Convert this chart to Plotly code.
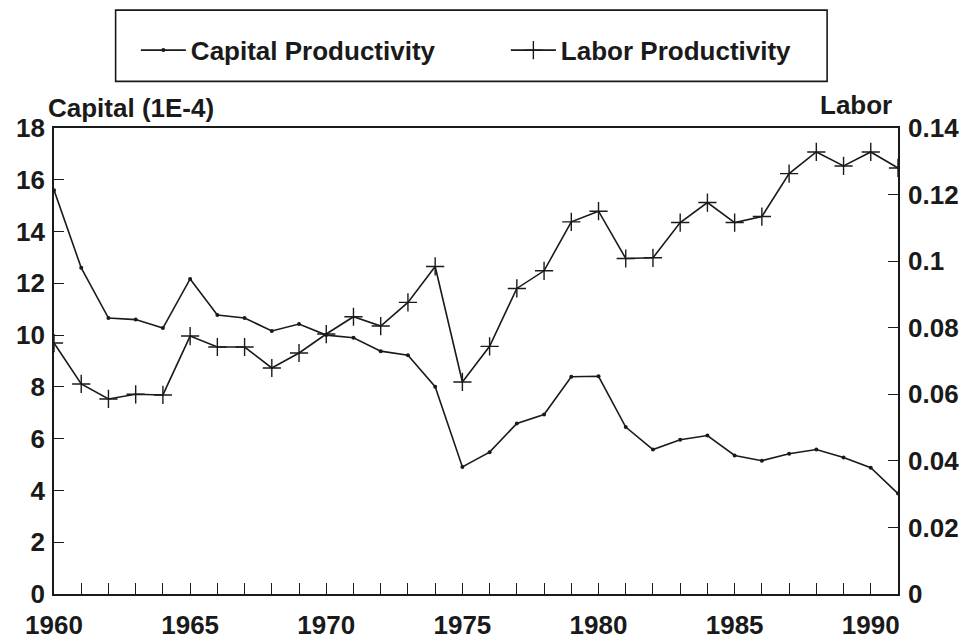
import plotly.graph_objects as go

years = list(range(1960, 1992))
capital = [15.6, 12.6, 10.66, 10.6, 10.27, 12.17, 10.78, 10.66, 10.16, 10.43,
           10.0, 9.9, 9.38, 9.22, 8.01, 4.91, 5.48, 6.59, 6.93, 8.39,
           8.41, 6.45, 5.58, 5.96, 6.12, 5.35, 5.15, 5.42, 5.58, 5.27,
           4.88, 3.88]
labor = [0.0754, 0.0631, 0.0586, 0.0600, 0.0598, 0.0775, 0.0742, 0.0742, 0.0679, 0.0724,
         0.0781, 0.0833, 0.0805, 0.0876, 0.0984, 0.0637, 0.0744, 0.0918, 0.0971, 0.1118,
         0.1150, 0.1008, 0.1010, 0.1116, 0.1176, 0.1116, 0.1134, 0.1263, 0.1328, 0.1286,
         0.1328, 0.1280]
x_labels = [str(y) if y % 5 == 0 else "" for y in years]

FONT = "Liberation Sans"
INK = "#1a1a1a"

fig = go.Figure()
fig.add_trace(go.Scatter(x=years, y=capital, name="Capital Productivity", mode="lines+markers",
                         line=dict(color=INK, width=1.6),
                         marker=dict(symbol="circle", size=4, color=INK)))
fig.add_trace(go.Scatter(x=years, y=labor, name="Labor Productivity", mode="lines+markers", yaxis="y2",
                         line=dict(color=INK, width=1.6),
                         marker=dict(symbol="cross-thin", size=13, line=dict(color=INK, width=1.4))))

tickfont = dict(family=FONT, size=26, color=INK, weight="bold")
titlefont = dict(family=FONT, size=26, color=INK, weight="bold")
# page body has an 8px margin, so the figure is 8px smaller and margins shifted
fig.update_layout(
    width=960, height=633,
    margin=dict(l=46, r=70, t=120, b=47),
    paper_bgcolor="white", plot_bgcolor="white",
    font=dict(family=FONT, color=INK),
    showlegend=True,
    legend=dict(orientation="h", x=0.097, y=1.167, xanchor="left", yanchor="middle",
                font=dict(family=FONT, size=26, color=INK, weight="bold"),
                bgcolor="rgba(0,0,0,0)", itemwidth=45, entrywidth=310),
    xaxis=dict(range=[1960, 1991], tickvals=years, ticktext=x_labels,
               ticks="inside", ticklen=11, tickwidth=1.3, tickcolor=INK,
               showline=True, linecolor=INK, linewidth=1.6, mirror=True, automargin=False,
               showgrid=False, zeroline=False, tickfont=tickfont, ticklabelstandoff=7),
    yaxis=dict(range=[0, 18], dtick=2, ticks="inside", ticklen=10, tickwidth=1.3, tickcolor=INK,
               showline=True, linecolor=INK, linewidth=1.6, mirror=True, automargin=False,
               showgrid=False, zeroline=False, tickfont=tickfont, ticklabelstandoff=2),
    yaxis2=dict(range=[0, 0.14], dtick=0.02, overlaying="y", side="right",
                ticks="inside", ticklen=10, tickwidth=1.3, tickcolor=INK, automargin=False,
                showline=True, linecolor=INK, linewidth=1.6,
                showgrid=False, zeroline=False, tickfont=tickfont, ticklabelstandoff=3),
    shapes=[dict(type="rect", xref="paper", yref="paper", x0=0.073, x1=0.916, y0=1.1, y1=1.253,
                 line=dict(color=INK, width=1.6))],
    annotations=[
        dict(text="Capital (1E-4)", xref="paper", yref="paper", x=-0.01, y=1.043,
             xanchor="left", yanchor="middle", showarrow=False, font=titlefont),
        dict(text="Labor", xref="paper", yref="paper", x=0.995, y=1.05,
             xanchor="right", yanchor="middle", showarrow=False, font=titlefont),
    ],
)

fig.write_html("out.html")
